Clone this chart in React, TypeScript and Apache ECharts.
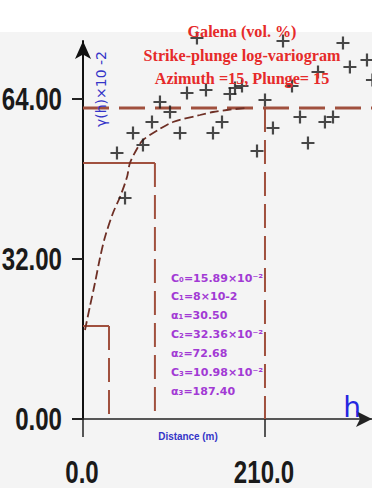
import React, { useEffect, useRef } from "react";
import * as echarts from "echarts";

const xTickValues = [0, 210];
const yTickValues = [0, 32, 64];
const xMax = 333.5;
const yMax = 75.6;

const distances = [39.2, 48.5, 57.7, 69.2, 79.6, 88.8, 100.4, 111.9, 120, 131.5, 141.9, 150, 160.4, 169.6, 175.4, 183.5, 200.8, 210, 219.2, 230.8, 241.2, 250.4, 259.6, 271.2, 279.2, 288.5, 300, 308, 327.7, 334];
const gammas = [53.2, 44.2, 57.2, 54.8, 59.4, 63.4, 61.4, 57.2, 65.2, 76.2, 65.8, 57.2, 59.4, 65, 66.2, 66.6, 53.6, 63.8, 58.2, 75.6, 66.6, 60.4, 55.2, 69.4, 59.4, 60.4, 75.2, 70.4, 71.8, 67.8];

const modelH = [2.3, 8.1, 13.8, 19.6, 25.4, 34.6, 42.7, 50.8, 54.2, 63.5, 69.2, 86.5, 103.8, 135, 150, 166, 187];
const modelGamma = [17.8, 22.6, 27.2, 32.2, 36.4, 41.2, 44.4, 48.4, 51.2, 54.4, 55.8, 57.8, 59.4, 60.8, 61.4, 61.8, 62.2];

const sillLevels = [18.6, 51.2, 62.2];
const rangeDistances = [30, 83, 210];

const titleLines = ["Galena (vol. %)", "Strike-plunge log-variogram", "Azimuth =15, Plunge= 15"];
const paramLines = ["C₀=15.89×10⁻²", "C₁=8×10-2", "α₁=30.50", "C₂=32.36×10⁻²", "α₂=72.68", "C₃=10.98×10⁻²", "α₃=187.40"];
const yAxisTitle = "γ(h)×10 -2";
const xAxisTitle = "Distance (m)";

const SILL = "#a0503e";
const TICK_FONT = "bold 29px 'Liberation Sans', Arial, sans-serif";
const plusPath = "path://M5.4,0h2.2v5.4h5.4v2.2h-5.4v5.4h-2.2v-5.4h-5.4v-2.2h5.4z";

export default function App() {
  const ref = useRef<HTMLDivElement>(null);
  useEffect(() => {
    if (!ref.current) return;
    const chart = echarts.init(ref.current, null, { renderer: "svg" });
    const seg = (a: number[], b: number[]) => [a, b];
    const lineS = (data: number[][], type: any, width: number, color: string) => ({
      type: "line",
      data,
      showSymbol: false,
      symbol: "none",
      silent: true,
      clip: false,
      lineStyle: { color, width, type },
      z: 2,
    });
    const graphics: any[] = [
      { id: "bg", type: "rect", shape: { x: 0, y: 32, width: 372, height: 456 }, style: { fill: "#f4f4f4" }, z: -10, silent: true },
    ];
    const titleY = [31, 55, 78];
    titleLines.forEach((t, i) => {
      graphics.push({
        id: "title" + i,
        type: "text",
        x: 242,
        y: titleY[i],
        scaleX: 0.95,
        z: 5,
        style: {
          text: t,
          fill: "#e62a2a",
          font: "bold 17px 'Liberation Serif', serif",
          align: "center",
          verticalAlign: "middle",
        },
      });
    });
    paramLines.forEach((t, i) => {
      graphics.push({
        id: "param" + i,
        type: "text",
        x: 171,
        y: 278 + i * 18.9,
        z: 5,
        style: {
          text: t,
          fill: "#a23ad4",
          font: "bold 11px 'DejaVu Sans', sans-serif",
          align: "left",
          verticalAlign: "middle",
        },
      });
    });
    graphics.push({
      id: "yname",
      type: "text",
      x: 101,
      y: 89,
      rotation: Math.PI / 2,
      z: 5,
      style: {
        text: yAxisTitle,
        fill: "#3434c8",
        font: "14px 'DejaVu Sans', sans-serif",
        align: "center",
        verticalAlign: "middle",
      },
    });
    graphics.push({
      id: "xname",
      type: "text",
      x: 188,
      y: 436,
      scaleX: 0.9,
      z: 5,
      style: {
        text: xAxisTitle,
        fill: "#3434c8",
        font: "bold 11px 'Liberation Sans', sans-serif",
        align: "center",
        verticalAlign: "middle",
      },
    });
    graphics.push({
      id: "hname",
      type: "text",
      x: 352,
      y: 407,
      z: 5,
      style: {
        text: "h",
        fill: "#2626e0",
        font: "28px 'DejaVu Sans', sans-serif",
        align: "center",
        verticalAlign: "middle",
      },
    });

    chart.setOption({
      animation: false,
      graphic: graphics,
      grid: { left: 83, right: 0, top: 41, bottom: 69, outerBoundsMode: "none", containLabel: false },
      xAxis: {
        type: "value",
        min: 0,
        max: xMax,
        interval: 210,
        splitLine: { show: false },
        axisLine: { lineStyle: { color: "#222", width: 1.5 }, symbol: ["none", "arrow"], symbolSize: [12, 16] },
        axisTick: { customValues: xTickValues, length: 18, lineStyle: { color: "#222", width: 1.5 } },
        axisLabel: { show: false },
      },
      yAxis: {
        type: "value",
        min: 0,
        max: yMax,
        interval: 32,
        splitLine: { show: false },
        axisLine: { lineStyle: { color: "#111", width: 2 }, symbol: ["none", "arrow"], symbolSize: [12, 18] },
        axisTick: { customValues: yTickValues, length: 11, lineStyle: { color: "#222", width: 2 } },
        axisLabel: { show: false },
      },
      series: [
        lineS(seg([0, sillLevels[0]], [rangeDistances[0], sillLevels[0]]), "solid", 2, SILL),
        lineS(seg([rangeDistances[0], sillLevels[0]], [rangeDistances[0], 0]), [24, 8], 2, SILL),
        lineS(seg([0, sillLevels[1]], [rangeDistances[1], sillLevels[1]]), "solid", 2, SILL),
        lineS(seg([rangeDistances[1], sillLevels[1]], [rangeDistances[1], 0]), [24, 8], 2, SILL),
        lineS(seg([0, sillLevels[2]], [xMax, sillLevels[2]]), [26, 10], 3, SILL),
        lineS(seg([rangeDistances[2], sillLevels[2]], [rangeDistances[2], 0]), [24, 8], 2, SILL),
        {
          ...lineS(modelH.map((h, i) => [h, modelGamma[i]]), [9, 4], 1.8, "#6e2f25"),
          smooth: 0.3,
          z: 3,
        },
        {
          type: "scatter",
          data: distances.map((d, i) => [d, gammas[i]]),
          symbol: plusPath,
          symbolSize: 13,
          clip: false,
          itemStyle: { color: "#1c1c1c" },
          z: 4,
        },
      ],
    });

    // Tick labels, placed through the axes' own scales, drawn condensed
    const tickGraphics: any[] = [];
    yTickValues.forEach((v, i) => {
      const p = chart.convertToPixel({ gridIndex: 0 }, [0, v]) as number[];
      tickGraphics.push({
        id: "ylab" + i,
        type: "text",
        x: p[0] - 21,
        y: p[1],
        scaleX: 0.83,
        scaleY: 1.06,
        z: 5,
        style: { text: v.toFixed(2), fill: "#1a1a1a", font: TICK_FONT, lineHeight: 24, align: "right", verticalAlign: "middle" },
      });
    });
    xTickValues.forEach((v, i) => {
      const p = chart.convertToPixel({ gridIndex: 0 }, [v, 0]) as number[];
      tickGraphics.push({
        id: "xlab" + i,
        type: "text",
        x: p[0] - 1,
        y: p[1] + 53,
        scaleX: 0.83,
        scaleY: 1.06,
        z: 5,
        style: { text: v.toFixed(1), fill: "#1a1a1a", font: TICK_FONT, lineHeight: 24, align: "center", verticalAlign: "middle" },
      });
    });
    chart.setOption({ graphic: graphics.concat(tickGraphics) });
    return () => chart.dispose();
  }, []);
  return <div ref={ref} style={{ position: "fixed", left: 0, top: 0, width: 372, height: 488, background: "#fff" }} />;
}
